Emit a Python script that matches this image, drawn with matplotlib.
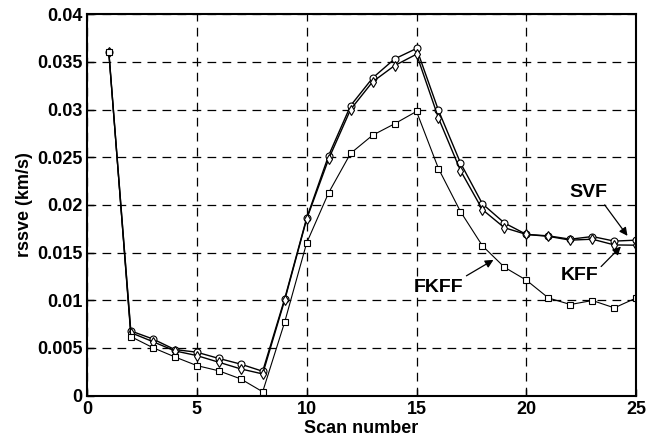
import numpy as np
import matplotlib
matplotlib.use("Agg")
import matplotlib.pyplot as plt

plt.rcParams['font.family'] = ['Liberation Sans', 'DejaVu Sans']
plt.rcParams['font.weight'] = 'bold'

scan = np.arange(1, 26)
svf = [0.0360, 0.00678, 0.00594, 0.00483, 0.00455, 0.0039, 0.0033, 0.00255, 0.01014, 0.0186,
       0.02517, 0.0304, 0.0333, 0.0353, 0.0364, 0.0299, 0.0244, 0.0201, 0.0181, 0.0169,
       0.01675, 0.0164, 0.01668, 0.0162, 0.0163]
kff = [0.0360, 0.0066, 0.00566, 0.00469, 0.0042, 0.0035, 0.0028, 0.00227, 0.0100, 0.0185,
       0.0248, 0.0300, 0.0329, 0.0346, 0.0358, 0.0291, 0.0236, 0.0195, 0.0176, 0.0169,
       0.0167, 0.0163, 0.0164, 0.0158, 0.01577]
fkff = [0.0360, 0.00619, 0.00503, 0.00406, 0.00315, 0.0026, 0.00175, 0.0004, 0.0077, 0.0160,
        0.02126, 0.0254, 0.0273, 0.0285, 0.0298, 0.0238, 0.0193, 0.0157, 0.01346, 0.0121,
        0.01024, 0.00955, 0.00997, 0.0092, 0.01024]

yticks = np.arange(0, 0.0401, 0.005)
ylabels = ['0', '0.005', '0.01', '0.015', '0.02', '0.025', '0.03', '0.035', '0.04']

fig = plt.figure(figsize=(6.58, 4.42), dpi=100)
ax = fig.add_axes([0.132, 0.105, 0.835, 0.863])

ax.plot(scan, svf, 'k-', marker='o', mfc='white', mec='k', ms=5, lw=1, mew=0.8)
ax.plot(scan, kff, 'k-', marker='d', mfc='white', mec='k', ms=5, lw=1, mew=0.8)
ax.plot(scan, fkff, 'k-', marker='s', mfc='white', mec='k', ms=4.5, lw=0.8, mew=0.8)

ax.set_xlim(0, 25)
ax.set_ylim(0, 0.04)
ax.set_xticks([0, 5, 10, 15, 20, 25])
ax.set_yticks(yticks)
ax.set_yticklabels(ylabels)
ax.tick_params(direction='in', labelsize=13, width=1, length=5)
ax.tick_params(axis='x', pad=4)
ax.tick_params(axis='y', pad=3)
for lab in ax.get_xticklabels() + ax.get_yticklabels():
    lab.set_fontweight('bold')
ax.grid(True, color='k', linestyle=(0, (7, 5)), linewidth=0.9)
for sp in ax.spines.values():
    sp.set_linewidth(1.5)

ax.set_xlabel('Scan number', fontsize=13, fontweight='bold', labelpad=1)
ax.set_ylabel('rssve (km/s)', fontsize=13, fontweight='bold', labelpad=3)

arrow = dict(arrowstyle='-|>', color='k', lw=0.9, mutation_scale=12, shrinkA=0, shrinkB=0)
ax.annotate('SVF', xy=(24.6, 0.01675), xytext=(22.8, 0.0213), fontsize=14, fontweight='bold',
            ha='center', va='center')
ax.annotate('', xy=(24.6, 0.01675), xytext=(23.56, 0.0200), arrowprops=arrow)
ax.annotate('KFF', xy=(24.3, 0.01563), xytext=(22.4, 0.01256), fontsize=14, fontweight='bold',
            ha='center', va='center')
ax.annotate('', xy=(24.3, 0.01563), xytext=(23.4, 0.01353), arrowprops=arrow)
ax.annotate('FKFF', xy=(18.5, 0.01423), xytext=(16.0, 0.0113), fontsize=14, fontweight='bold',
            ha='center', va='center')
ax.annotate('', xy=(18.5, 0.01423), xytext=(17.27, 0.01256), arrowprops=arrow)

fig.savefig('out.png', dpi=100)
